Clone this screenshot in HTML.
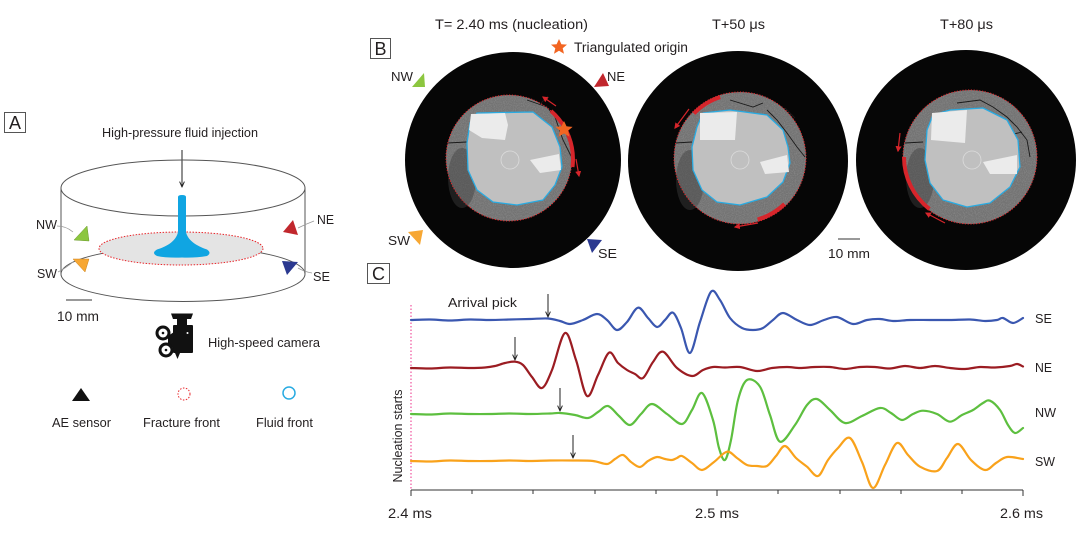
<!DOCTYPE html>
<html><head><meta charset="utf-8"><style>
html,body{margin:0;padding:0;background:#fff;}
svg{display:block;}
text{font-family:"Liberation Sans",Arial,sans-serif;fill:#231f20;}
</style></head><body>
<svg id="s" width="1080" height="533" viewBox="0 0 1080 533" xmlns="http://www.w3.org/2000/svg">
<defs>
<marker id="ah" viewBox="0 0 10 10" refX="8" refY="5" markerWidth="5" markerHeight="5" orient="auto"><path d="M0,0 L10,5 L0,10 z" fill="#d7252b"/></marker>
<marker id="bk" viewBox="0 0 10 10" refX="9" refY="5" markerWidth="6" markerHeight="6" orient="auto"><path d="M0,1 L9,5 L0,9" fill="none" stroke="#222" stroke-width="1.6"/></marker>
<filter id="nz" x="0" y="0" width="100%" height="100%"><feTurbulence type="fractalNoise" baseFrequency="0.9" numOctaves="2" seed="3"/><feColorMatrix type="matrix" values="0 0 0 0 1  0 0 0 0 1  0 0 0 0 1  0 0 0 0.9 -0.35"/><feComposite in2="SourceGraphic" operator="in"/></filter>
</defs>
<rect width="1080" height="533" fill="#fff"/>

<!-- ================= PANEL A ================= -->
<rect x="4.5" y="112.5" width="21" height="20" fill="none" stroke="#555" stroke-width="1"/>
<text x="15" y="129" font-size="18" text-anchor="middle">A</text>
<text x="102" y="137" font-size="13" textLength="156" lengthAdjust="spacingAndGlyphs">High-pressure fluid injection</text>
<line x1="182" y1="150" x2="182" y2="187" stroke="#222" stroke-width="1" marker-end="url(#bk)"/>

<!-- cylinder -->
<ellipse cx="183" cy="274" rx="122" ry="27.5" fill="none" stroke="#555" stroke-width="1"/>
<line x1="61" y1="188" x2="61" y2="274" stroke="#555" stroke-width="1"/>
<line x1="305" y1="188" x2="305" y2="274" stroke="#555" stroke-width="1"/>
<ellipse cx="183" cy="188" rx="122" ry="28" fill="none" stroke="#555" stroke-width="1"/>
<ellipse cx="181" cy="248.5" rx="82" ry="16.5" fill="#e4e4e4" stroke="#e8262b" stroke-width="1" stroke-dasharray="1.5 1.5"/>
<path d="M178,197 Q178,195 182,195 Q186,195 186,197 L186,232 C188,242 200,247 207,249.5 Q212,253 207,256 Q195,258 182,257.5 Q166,258 157,256 Q151,253 157,249.5 C165,247 176,242 178,232 Z" fill="#10a5e2"/>

<!-- triangles A -->
<polygon points="87,226 74,240 89,241" fill="#8cc63f" stroke="#6a9a2a" stroke-width="0.5"/>
<polygon points="73,259 89,259 85,272" fill="#f7a733" stroke="#c98320" stroke-width="0.5"/>
<polygon points="293,220 283,232 298,235" fill="#c1272d"/>
<polygon points="282,261 298,262 287,275" fill="#2b3990"/>
<path d="M57,226 Q66,226 73,232" fill="none" stroke="#999" stroke-width="0.8"/>
<path d="M58,272 Q66,268 73,262" fill="none" stroke="#999" stroke-width="0.8"/>
<path d="M314,221 Q306,224 298,228" fill="none" stroke="#999" stroke-width="0.8"/>
<path d="M298,268 Q305,272 312,273" fill="none" stroke="#999" stroke-width="0.8"/>
<text x="36" y="229" font-size="13" textLength="21" lengthAdjust="spacingAndGlyphs">NW</text>
<text x="37" y="278" font-size="13" textLength="20" lengthAdjust="spacingAndGlyphs">SW</text>
<text x="317" y="224" font-size="13" textLength="17" lengthAdjust="spacingAndGlyphs">NE</text>
<text x="313" y="281" font-size="13" textLength="17" lengthAdjust="spacingAndGlyphs">SE</text>
<line x1="66" y1="300" x2="92" y2="300" stroke="#333" stroke-width="1"/>
<text x="57" y="321" font-size="13.5" textLength="42" lengthAdjust="spacingAndGlyphs">10 mm</text>

<!-- camera -->
<g fill="#111">
<polygon points="171,313.5 193,313.5 191,319 173,319"/>
<rect x="177" y="318" width="10" height="8"/>
<rect x="173" y="325" width="20" height="28" rx="1"/>
<polygon points="168,336 174,332 174,348 168,344"/>
<polygon points="175,353 180,353 177.5,359"/>
<circle cx="163" cy="333" r="7.5"/>
<circle cx="166" cy="350" r="7.5"/>
</g>
<circle cx="163" cy="333" r="4.5" fill="#fff"/><circle cx="166" cy="350" r="4.5" fill="#fff"/>
<circle cx="163" cy="333" r="1.3" fill="#111"/><circle cx="166" cy="350" r="1.3" fill="#111"/>
<circle cx="187.5" cy="333" r="1" fill="#fff"/>
<text x="208" y="347" font-size="13" textLength="112" lengthAdjust="spacingAndGlyphs">High-speed camera</text>

<!-- legend -->
<polygon points="72,401 81,388 90,401" fill="#111"/>
<circle cx="184" cy="394" r="6" fill="none" stroke="#e8262b" stroke-width="1" stroke-dasharray="1.5 1.5"/>
<circle cx="289" cy="393" r="6" fill="none" stroke="#29abe2" stroke-width="1.5"/>
<text x="52" y="427" font-size="13" textLength="59" lengthAdjust="spacingAndGlyphs">AE sensor</text>
<text x="143" y="427" font-size="13" textLength="77" lengthAdjust="spacingAndGlyphs">Fracture front</text>
<text x="256" y="427" font-size="13" textLength="57" lengthAdjust="spacingAndGlyphs">Fluid front</text>

<!-- ================= PANEL B ================= -->
<rect x="370.5" y="38.5" width="20" height="20" fill="none" stroke="#555" stroke-width="1"/>
<text x="380.5" y="55" font-size="18" text-anchor="middle">B</text>
<text x="435" y="29" font-size="13.5" textLength="153" lengthAdjust="spacingAndGlyphs">T= 2.40 ms (nucleation)</text>
<text x="712" y="29" font-size="13.5" textLength="53" lengthAdjust="spacingAndGlyphs">T+50 μs</text>
<text x="940" y="29" font-size="13.5" textLength="53" lengthAdjust="spacingAndGlyphs">T+80 μs</text>
<polygon points="559,39 561.4,44.2 567,44.6 562.7,48.2 564,53.7 559,50.8 554,53.7 555.3,48.2 551,44.6 556.6,44.2" fill="#f26522"/>
<text x="574" y="52" font-size="13.5" textLength="114" lengthAdjust="spacingAndGlyphs">Triangulated origin</text>

<!-- disks -->
<circle cx="513" cy="160" r="108" fill="#060606"/>
<circle cx="738" cy="161" r="110" fill="#060606"/>
<circle cx="966" cy="160" r="110" fill="#060606"/>

<!-- annuli -->
<g>
<circle cx="509" cy="158" r="63" fill="#737373"/>
<circle cx="740" cy="158" r="66" fill="#737373"/>
<circle cx="970" cy="157" r="67" fill="#737373"/>
<circle cx="509" cy="158" r="63" fill="#000" filter="url(#nz)" opacity="0.35"/>
<circle cx="740" cy="158" r="66" fill="#000" filter="url(#nz)" opacity="0.35"/>
<circle cx="970" cy="157" r="67" fill="#000" filter="url(#nz)" opacity="0.35"/>
<ellipse cx="462" cy="178" rx="14" ry="30" fill="#3e3e3e" opacity="0.45"/>
<ellipse cx="690" cy="180" rx="14" ry="30" fill="#3e3e3e" opacity="0.45"/>
<ellipse cx="920" cy="178" rx="14" ry="30" fill="#3e3e3e" opacity="0.45"/>
</g>
<!-- cracks -->
<g fill="none" stroke="#1a1a1a" stroke-width="0.9">
<path d="M527,100 L547,107 L555,117 L563,140 L573,160"/>
<path d="M447,143 L467,142"/><path d="M540,104 L548,96"/><path d="M560,130 L568,126"/>
<path d="M730,100 L753,107 L763,103"/><path d="M767,110 L777,120 L787,133 L797,147 L805,157"/>
<path d="M675,143 L692,142"/><path d="M785,108 L795,118"/>
<path d="M957,103 L980,100 L993,107 L1007,117 L1017,127 L1027,140 L1030,157"/>
<path d="M905,143 L923,142"/><path d="M1010,135 L1022,132"/>
</g>
<!-- fluid regions -->
<path d="M477,113 L533,112 L552,127 L560,147 L562,167 L555,185 L543,200 L517,205 L493,202 L477,190 L468,170 L467,143 L470,123 Z" fill="#c0c0c0" stroke="#29abe2" stroke-width="1.3" stroke-linejoin="round"/>
<path d="M703,113 L730,110 L767,115 L783,130 L788,147 L790,163 L783,182 L767,197 L740,205 L717,202 L702,190 L693,170 L692,147 L697,127 Z" fill="#c0c0c0" stroke="#29abe2" stroke-width="1.3" stroke-linejoin="round"/>
<path d="M933,115 L950,110 L983,108 L1007,120 L1018,140 L1020,167 L1010,187 L990,203 L967,207 L943,200 L930,183 L925,160 L927,130 Z" fill="#c0c0c0" stroke="#29abe2" stroke-width="1.3" stroke-linejoin="round"/>
<g fill="#ebebeb">
<polygon points="471,114 505,113 508,125 505,140 482,138 469,130"/>
<polygon points="530,160 559,154 561,170 540,173"/>
<polygon points="700,113 737,112 735,140 700,140"/>
<polygon points="760,162 787,155 789,172 765,174"/>
<polygon points="932,113 967,110 965,143 931,140"/>
<polygon points="983,162 1017,155 1017,174 990,174"/>
</g>
<g fill="none" stroke="#dcdcdc" stroke-width="0.8">
<circle cx="510" cy="160" r="9"/><circle cx="740" cy="160" r="9"/><circle cx="972" cy="160" r="9"/>
</g>
<!-- fracture fronts dotted -->
<g fill="none" stroke="#e8262b" stroke-width="1" stroke-dasharray="1.2 1.6">
<circle cx="509" cy="158" r="63"/><circle cx="740" cy="158" r="66"/><circle cx="970" cy="157" r="67"/>
</g>
<!-- red slip arcs -->
<g fill="none" stroke="#d7252b" stroke-width="4">
<path d="M551,111 A64,64 0 0 1 572.5,167"/>
<path d="M693.9,113.5 A64,64 0 0 1 720.2,97.1"/>
<path d="M784.5,204 A64,64 0 0 1 757.6,219.5"/>
<path d="M904,157 A66,66 0 0 0 929.4,209"/>
</g>
<g fill="none" stroke="#d7252b" stroke-width="1.2">
<line x1="556" y1="106" x2="543" y2="97" marker-end="url(#ah)"/>
<line x1="576" y1="159" x2="579" y2="176" marker-end="url(#ah)"/>
<line x1="689" y1="109" x2="675" y2="128" marker-end="url(#ah)"/>
<line x1="758" y1="223" x2="735" y2="227" marker-end="url(#ah)"/>
<line x1="900" y1="133" x2="898" y2="151" marker-end="url(#ah)"/>
<line x1="945" y1="223" x2="926" y2="213" marker-end="url(#ah)"/>
</g>
<!-- star on circle 1 -->
<polygon points="564,121 566.6,126.4 572.6,126.9 568,130.8 569.4,136.6 564,133.5 558.6,136.6 560,130.8 555.4,126.9 561.4,126.4" fill="#f26522"/>
<!-- triangles B -->
<polygon points="412,87 424,73 425,87" fill="#8cc63f"/>
<polygon points="594,87 603,73 609,86" fill="#c1272d"/>
<polygon points="408,232 423,230 420,245" fill="#f7a733"/>
<polygon points="587,239 602,240 592,253" fill="#2b3990"/>
<text x="391" y="81" font-size="13" textLength="22" lengthAdjust="spacingAndGlyphs">NW</text>
<text x="607" y="81" font-size="13" textLength="18" lengthAdjust="spacingAndGlyphs">NE</text>
<text x="388" y="245" font-size="13" textLength="22" lengthAdjust="spacingAndGlyphs">SW</text>
<text x="598" y="258" font-size="13" textLength="19" lengthAdjust="spacingAndGlyphs">SE</text>
<line x1="838" y1="239" x2="860" y2="239" stroke="#333" stroke-width="1"/>
<text x="828" y="258" font-size="13" textLength="42" lengthAdjust="spacingAndGlyphs">10 mm</text>

<!-- ================= PANEL C ================= -->
<rect x="367.5" y="263.5" width="22" height="20" fill="none" stroke="#555" stroke-width="1"/>
<text x="378.5" y="280" font-size="18" text-anchor="middle">C</text>
<line x1="411" y1="305" x2="411" y2="490" stroke="#f0529c" stroke-width="1.2" stroke-dasharray="1.5 2"/>
<text x="397" y="441" font-size="13" text-anchor="middle" transform="rotate(-90 397 436)" textLength="93" lengthAdjust="spacingAndGlyphs">Nucleation starts</text>
<text x="448" y="307" font-size="13" textLength="69" lengthAdjust="spacingAndGlyphs">Arrival pick</text>

<!-- axis -->
<g stroke="#333" stroke-width="1">
<line x1="411" y1="490" x2="1023" y2="490"/>
<line x1="411" y1="490" x2="411" y2="496"/><line x1="717" y1="490" x2="717" y2="496"/><line x1="1023" y1="490" x2="1023" y2="496"/>
<line x1="472" y1="490" x2="472" y2="494"/><line x1="533" y1="490" x2="533" y2="494"/><line x1="595" y1="490" x2="595" y2="494"/><line x1="656" y1="490" x2="656" y2="494"/>
<line x1="778" y1="490" x2="778" y2="494"/><line x1="840" y1="490" x2="840" y2="494"/><line x1="901" y1="490" x2="901" y2="494"/><line x1="962" y1="490" x2="962" y2="494"/>
</g>
<text x="388" y="518" font-size="14" textLength="44" lengthAdjust="spacingAndGlyphs">2.4 ms</text>
<text x="695" y="518" font-size="14" textLength="44" lengthAdjust="spacingAndGlyphs">2.5 ms</text>
<text x="1000" y="518" font-size="14" textLength="43" lengthAdjust="spacingAndGlyphs">2.6 ms</text>
<text x="1035" y="323" font-size="13" textLength="17" lengthAdjust="spacingAndGlyphs">SE</text>
<text x="1035" y="372" font-size="13" textLength="17" lengthAdjust="spacingAndGlyphs">NE</text>
<text x="1035" y="417" font-size="13" textLength="21" lengthAdjust="spacingAndGlyphs">NW</text>
<text x="1035" y="466" font-size="13" textLength="20" lengthAdjust="spacingAndGlyphs">SW</text>

<!-- waveforms -->
<g fill="none" stroke-width="2.2" stroke-linejoin="round" stroke-linecap="round">
<polyline class="w" stroke="#3a57b0" points="411,320 430,319.5 450,320.5 470,319.5 490,320 510,319.5 530,319 548,318.5 560,321 570,324 583,320 597,314 607,320 617,330 627,322 638,307.7 648,318 657,327 665,320 673,312.7 681,328 690,353 700,322 711,291.7 720,300 730,318 742,328 753,330 763,328 773,320 783,313 797,320 810,325 824,320 837,317 853,324 867,320 880,319 893,321 910,320 930,320 950,320 970,319.5 985,321 997,320 1003,318 1013,323 1023,318"/>
<polyline class="w" stroke="#9b1c22" points="411,368 430,368.5 450,367.5 470,368 485,367.5 495,366 505,363 515,361.7 523,365 532,377 542,388 552,370 565,333 576,360 587,396 598,375 609,352.7 618,363 627,370 635,374 643,378 653,362 663,351.7 677,368 692,376 703,370 713,367 725,367.5 740,367 757,371 772,368 787,367 800,368 815,367 830,367 845,369 860,367 875,367 890,368.5 905,366 920,368 935,366 950,368 965,369 980,367 995,367.5 1010,366 1017,364 1023,366.5"/>
<polyline class="w" stroke="#5dbf3f" points="411,414 430,414.5 450,413.5 470,414 490,414 510,413.5 530,414 550,413.5 560,413 575,415 588,418 598,412 608,406 619,416 630,425 641,414 652,404 667,414 682,424 692,410 702,393 713,420 719,448 725,460 731,440 738,400 747,380 760,386.7 770,415 780,441.7 795,425 807,405 817,399 830,410 845,423 862,416 880,408 891,413 902,420 913,414 923,410.7 937,414 950,421.7 962,415 973,410 983,403 990,400.7 1000,410 1008,425 1015,433 1023,428"/>
<polyline class="w" stroke="#f9a21b" points="411,461 430,461.5 450,460.5 470,461 490,461 510,460.5 530,461 550,460.5 573,460.5 593,461 607,464 615,459 623,455 631,462 640,467 648,461 657,457 665,459 672,460 677,458 682,456 692,463 702,470 714,462 727,451.7 737,458 747,465 757,466 767,466 776,456 785,446 796,458 807,466.7 818,476 828,460 838,448 850,438 862,462 873,488 885,465 897,443 908,455 920,466.7 937,471 947,458 958,444 971,460 985,470 996,463 1007,457 1023,459"/>
</g>
<!-- arrival picks -->
<g stroke="#222" stroke-width="1" fill="none">
<line x1="548" y1="294" x2="548" y2="317" marker-end="url(#bk)"/>
<line x1="515" y1="337" x2="515" y2="360" marker-end="url(#bk)"/>
<line x1="560" y1="388" x2="560" y2="411" marker-end="url(#bk)"/>
<line x1="573" y1="435" x2="573" y2="458" marker-end="url(#bk)"/>
</g>
</svg>
<script>
(function(){
var NS="http://www.w3.org/2000/svg";
var pl=document.querySelectorAll("polyline.w");
for(var k=0;k<pl.length;k++){
 var e=pl[k];
 var raw=e.getAttribute("points").trim().split(/\s+/).map(function(s){var a=s.split(",");return[+a[0],+a[1]];});
 var d="M"+raw[0][0]+","+raw[0][1];
 for(var i=0;i<raw.length-1;i++){
  var p0=raw[i-1]||raw[i],p1=raw[i],p2=raw[i+1],p3=raw[i+2]||raw[i+1];
  var c1x=p1[0]+(p2[0]-p0[0])/6,c1y=p1[1]+(p2[1]-p0[1])/6;
  var c2x=p2[0]-(p3[0]-p1[0])/6,c2y=p2[1]-(p3[1]-p1[1])/6;
  d+=" C"+c1x.toFixed(2)+","+c1y.toFixed(2)+" "+c2x.toFixed(2)+","+c2y.toFixed(2)+" "+p2[0]+","+p2[1];
 }
 var p=document.createElementNS(NS,"path");
 p.setAttribute("d",d);
 p.setAttribute("stroke",e.getAttribute("stroke"));
 e.parentNode.replaceChild(p,e);
}
})();
</script>
</body></html>
